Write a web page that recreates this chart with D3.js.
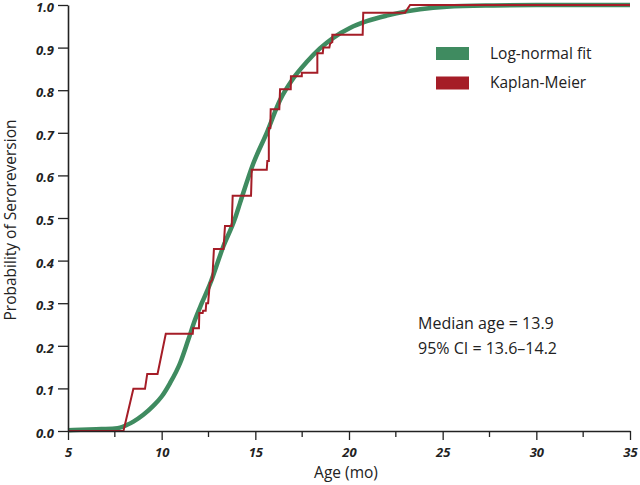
<!DOCTYPE html>
<html>
<head>
<meta charset="utf-8">
<script src="https://cdn.jsdelivr.net/npm/d3@7/dist/d3.min.js"></script>
<style>
  html, body { margin: 0; padding: 0; background: #ffffff; }
  svg { display: block; }
</style>
</head>
<body>
<svg id="chart" width="640" height="485"></svg>
<script>
// ---- data ----
// Kaplan-Meier curve vertices (age in months, probability)
const kmAge  = [5.0, 7.96, 8.49, 9.11, 9.23, 9.78, 10.22, 11.66, 11.68, 11.99, 12.01, 12.19, 12.21, 12.35, 12.38, 12.48, 12.57, 12.70, 12.79, 13.30, 13.38, 13.74, 13.79, 14.77, 14.81, 15.61, 15.64, 15.72, 15.72, 15.80, 15.82, 16.28, 16.32, 16.89, 16.90, 17.48, 17.48, 18.31, 18.31, 18.60, 18.63, 18.95, 18.99, 19.11, 19.11, 20.73, 20.76, 22.99, 23.26, 35.0];
const kmProb = [0.0, 0.0, 0.099, 0.099, 0.134, 0.134, 0.228, 0.228, 0.241, 0.241, 0.277, 0.277, 0.282, 0.282, 0.300, 0.300, 0.347, 0.355, 0.427, 0.427, 0.481, 0.481, 0.552, 0.552, 0.613, 0.613, 0.634, 0.634, 0.711, 0.711, 0.755, 0.755, 0.802, 0.802, 0.833, 0.833, 0.841, 0.841, 0.887, 0.887, 0.900, 0.900, 0.909, 0.913, 0.930, 0.930, 0.982, 0.982, 1.0, 1.0];
// Log-normal fit
const fitAge  = [5.0, 6.5, 7.51, 7.78, 8.13, 8.49, 9.02, 9.55, 10.0, 10.44, 10.98, 11.42, 11.78, 12.14, 12.58, 13.29, 13.90, 14.18, 14.89, 15.61, 16.32, 17.03, 17.74, 18.45, 19.16, 20.05, 20.95, 22.01, 23.08, 23.79, 25.22, 27.7, 30.0, 35.0];
const fitProb = [0.002, 0.004, 0.006, 0.008, 0.014, 0.022, 0.038, 0.059, 0.081, 0.112, 0.159, 0.214, 0.261, 0.300, 0.345, 0.433, 0.497, 0.535, 0.628, 0.700, 0.777, 0.828, 0.866, 0.898, 0.923, 0.946, 0.962, 0.975, 0.985, 0.990, 0.996, 0.999, 1.0, 1.0];
const xTicks = [5, 10, 15, 20, 25, 30, 35];
const xMinorTicks = [7.5, 12.5, 17.5, 22.5, 27.5, 32.5];
const yTicks = [0.0, 0.1, 0.2, 0.3, 0.4, 0.5, 0.6, 0.7, 0.8, 0.9, 1.0];
const legendLabels = ["Log-normal fit", "Kaplan-Meier"];
const statLines = ["Median age = 13.9", "95% CI = 13.6\u201314.2"];
const xTitle = "Age (mo)";
const yTitle = "Probability of Seroreversion";

// ---- style ----
const GREEN = "#3f8b60";
const RED = "#a51d27";
const FONT = "'Open Sans', 'Noto Sans', sans-serif";

const svg = d3.select("#chart");
const x = d3.scaleLinear().domain([5, 35]).range([68, 630]);
const y = d3.scaleLinear().domain([0, 1]).range([431, 5]);

// Curves
const fitLine = d3.line().x(d => x(d[0])).y(d => y(d[1])).curve(d3.curveMonotoneX);
svg.append("path")
  .datum(fitAge.map((a, i) => [a, fitProb[i]]))
  .attr("d", fitLine)
  .attr("fill", "none")
  .attr("stroke", GREEN)
  .attr("stroke-width", 4.5)
  .attr("stroke-linejoin", "round");

const kmLine = d3.line().x(d => x(d[0])).y(d => y(d[1]));
svg.append("path")
  .datum(kmAge.map((a, i) => [a, kmProb[i]]))
  .attr("d", kmLine)
  .attr("fill", "none")
  .attr("stroke", RED)
  .attr("stroke-width", 2)
  .attr("stroke-linejoin", "miter");

// X axis
const xAxis = svg.append("g").attr("transform", `translate(0,${y(0)})`)
  .call(d3.axisBottom(x).tickValues(xTicks).tickSize(9).tickSizeOuter(0).tickFormat(d3.format("d")));
xAxis.append("g").selectAll("line").data(xMinorTicks).join("line")
  .attr("x1", d => x(d)).attr("x2", d => x(d)).attr("y1", 0).attr("y2", 6)
  .attr("stroke", "#222").attr("stroke-width", 1.3);
xAxis.selectAll(".domain").attr("stroke", "#222").attr("stroke-width", 1.6);
xAxis.selectAll(".tick line").attr("stroke", "#222").attr("stroke-width", 1.3);
xAxis.selectAll(".tick text")
  .attr("font-family", FONT).attr("font-size", 13).attr("font-weight", "bold").attr("font-style", "italic")
  .attr("fill", "#222").attr("dy", "1.05em");

// Y axis
const yAxis = svg.append("g").attr("transform", `translate(${x(5)},0)`)
  .call(d3.axisLeft(y).tickValues(yTicks).tickSize(10).tickSizeOuter(0).tickFormat(d3.format(".1f")));
yAxis.selectAll(".domain").attr("stroke", "#222").attr("stroke-width", 1.6);
yAxis.selectAll(".tick line").attr("stroke", "#222").attr("stroke-width", 1.3);
yAxis.selectAll(".tick text")
  .attr("font-family", FONT).attr("font-size", 13).attr("font-weight", "bold").attr("font-style", "italic")
  .attr("fill", "#222").attr("x", -14).attr("dy", "0.5em");

// Axis titles
svg.append("text").attr("x", 346).attr("y", 478).attr("text-anchor", "middle")
  .attr("font-family", FONT).attr("font-size", 15.5).attr("fill", "#222").text(xTitle);
svg.append("text").attr("transform", "translate(16,220) rotate(-90)").attr("text-anchor", "middle")
  .attr("font-family", FONT).attr("font-size", 15.5).attr("fill", "#222").text(yTitle);

// Legend
const legColors = [GREEN, RED];
const leg = svg.append("g");
legendLabels.forEach((t, i) => {
  leg.append("rect").attr("x", 436).attr("y", 47 + i * 29.5).attr("width", 33).attr("height", 13)
    .attr("fill", legColors[i]);
  leg.append("text").attr("x", 490).attr("y", 58.5 + i * 29)
    .attr("font-family", FONT).attr("font-size", 15.5).attr("fill", "#222").text(t);
});

// Stats text
statLines.forEach((t, i) => {
  svg.append("text").attr("x", 418).attr("y", 329 + i * 25)
    .attr("font-family", FONT).attr("font-size", 16).attr("fill", "#222").text(t);
});
</script>
</body>
</html>
